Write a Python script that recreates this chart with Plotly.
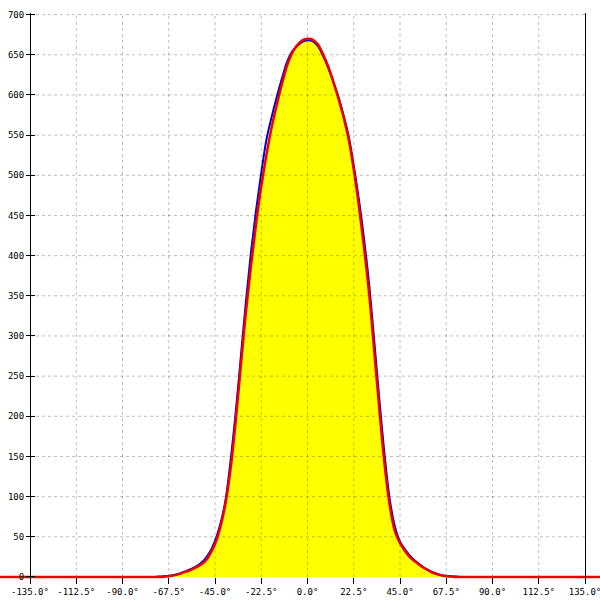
import plotly.graph_objects as go

# ---------------- data ----------------
x_ticks = [-135, -112.5, -90, -67.5, -45, -22.5, 0, 22.5, 45, 67.5, 90, 112.5, 135]
x_tick_labels = ["-135.0°", "-112.5°", "-90.0°", "-67.5°", "-45.0°", "-22.5°", "0.0°",
                 "22.5°", "45.0°", "67.5°", "90.0°", "112.5°", "135.0°"]
y_ticks = [0, 50, 100, 150, 200, 250, 300, 350, 400, 450, 500, 550, 600, 650, 700]
y_tick_labels = [str(v) for v in y_ticks]

# fitted curve (red) – runs across the whole window
fit_angle = [-150, -80, -75, -72.5, -70, -67.5, -65, -62.5, -60, -57.5, -55, -52.5, -50,
             -47.5, -45, -42.5, -40, -37.5, -35, -32.5, -30, -27.5, -25, -22.5, -20,
             -17.5, -15, -12.5, -10, -7.5, -5, -2.5, 0, 2.5, 5, 7.5, 10, 12.5, 15, 17.5,
             20, 22.5, 25, 27.5, 30, 32.5, 35, 37.5, 40, 42.5, 45, 47.5, 50, 52.5, 55,
             57.5, 60, 62.5, 65, 67.5, 70, 72.5, 75, 80, 143]
fit_counts = [0, 0, 0, 0, 0.3, 1, 2, 3.5, 6, 8, 11, 14.5, 19,
              28, 41, 61, 90, 133, 192, 261, 329, 387, 440, 486, 525,
              559, 587, 613, 636, 652, 662, 668, 670, 669, 663, 651, 636, 617, 596, 573,
              545, 507, 462, 410, 352, 280, 207, 140, 89, 57, 42, 32, 24, 19, 14,
              10, 6.5, 4, 2, 1, 0.5, 0, 0, 0, 0]

# measured data (blue)
data_angle = [-77, -75, -72.5, -70, -67.5, -65, -62.5, -60, -57.5, -55, -52.5, -50,
              -47.5, -45, -42.5, -40, -37.5, -35, -32.5, -30, -27.5, -25, -22.5, -20,
              -17.5, -15, -12.5, -10, -7.5, -5, -2.5, 0, 2.5, 5, 7.5, 10, 12.5, 15, 17.5,
              20, 22.5, 25, 27.5, 30, 32.5, 35, 37.5, 40, 42.5, 45, 47.5, 50, 52.5, 55,
              57.5, 60, 62.5, 65, 67.5, 70, 72.5, 75, 77.5, 79.5]
data_counts = [0, 0, 0.5, 1, 1.5, 2.5, 4, 6.5, 9, 12, 16, 22,
               31, 45, 65, 94, 143, 203, 272, 342, 404, 457, 503, 544,
               572, 597, 620, 641, 654, 661, 666, 668, 667, 661, 649, 634, 617, 598, 575,
               549, 512, 470, 421, 364, 293, 220, 152, 97, 63, 44, 34, 26, 20, 15,
               10.5, 7, 4.5, 2.5, 1.5, 1, 0.5, 0, 0, 0]

# ---------------- geometry ----------------
W, H = 600, 600
LEFT_FRAC, RIGHT_FRAC = 0.05, 0.975          # where the two vertical axis lines sit
x_span = (x_ticks[-1] - x_ticks[0]) / (RIGHT_FRAC - LEFT_FRAC)
x_min = x_ticks[0] - LEFT_FRAC * x_span
x_range = [x_min, x_min + x_span]
y_range = [-5, 702]
x_axis_pos = (0 - y_range[0]) / (y_range[1] - y_range[0])

grid_color = "rgba(0,0,0,0.25)"
font = dict(family="DejaVu Sans Mono", size=9, color="black")

fig = go.Figure()

# yellow area under the fit
fig.add_trace(go.Scatter(x=fit_angle, y=fit_counts, mode="lines", line=dict(width=0, shape="spline"),
                         fill="tozeroy", fillcolor="#ffff00", hoverinfo="skip", showlegend=False))

# dashed grid drawn above the filled area
gx, gy = [], []
for v in y_ticks[1:]:
    gx += [x_ticks[0], x_ticks[-1], None]
    gy += [v, v, None]
for v in x_ticks[1:-1]:
    gx += [v, v, None]
    gy += [y_ticks[0], y_ticks[-1], None]
fig.add_trace(go.Scatter(x=gx, y=gy, mode="lines", line=dict(color=grid_color, width=1, dash="3px,3px"),
                         hoverinfo="skip", showlegend=False))

# data and fit
fig.add_trace(go.Scatter(x=data_angle, y=data_counts, mode="lines",
                         line=dict(color="#0000cc", width=2, shape="spline"), showlegend=False))
fig.add_trace(go.Scatter(x=fit_angle, y=fit_counts, mode="lines",
                         line=dict(color="#ee0000", width=2.5, shape="spline"), showlegend=False))

# helper traces so the extra axes get drawn
fig.add_trace(go.Scatter(x=[None], y=[None], yaxis="y2", showlegend=False, hoverinfo="skip"))
fig.add_trace(go.Scatter(x=[None], y=[None], yaxis="y3", showlegend=False, hoverinfo="skip"))

fig.update_layout(
    width=W, height=H,
    margin=dict(l=0, r=0, t=13, b=19, autoexpand=False),
    paper_bgcolor="white", plot_bgcolor="white",
    font=font,
    xaxis=dict(range=x_range, anchor="free", position=x_axis_pos,
               tickmode="array", tickvals=x_ticks, ticktext=x_tick_labels,
               ticks="outside", ticklen=6, tickcolor="black", tickwidth=1,
               ticklabeloverflow="allow",
               showgrid=False, zeroline=False, showline=False, tickfont=font, automargin=False),
    yaxis=dict(range=y_range, anchor="free", position=LEFT_FRAC,
               tickmode="array", tickvals=y_ticks, ticktext=y_tick_labels,
               ticks="outside", ticklen=4, tickcolor="black", tickwidth=1,
               showline=True, linecolor="black", linewidth=1,
               showgrid=False, zeroline=False, tickfont=font, automargin=False),
    yaxis2=dict(range=y_range, overlaying="y", anchor="free", position=LEFT_FRAC,
                tickmode="array", tickvals=y_ticks, ticks="inside", ticklen=4,
                tickcolor="black", showticklabels=False, showgrid=False, zeroline=False,
                showline=False),
    yaxis3=dict(range=y_range, overlaying="y", anchor="free", position=RIGHT_FRAC,
                showticklabels=False, ticks="", showgrid=False, zeroline=False,
                showline=True, linecolor="black", linewidth=1),
)

fig.write_html("out.html", config={"displayModeBar": False},
               post_script="document.body.style.margin='0';")
